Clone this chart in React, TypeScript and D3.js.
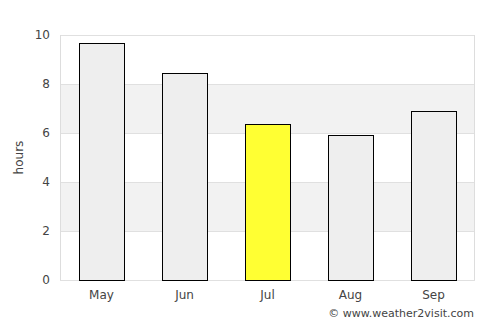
import * as d3 from 'd3';

const months = ['May', 'Jun', 'Jul', 'Aug', 'Sep'];
const hours = [9.67, 8.45, 6.37, 5.92, 6.9];
const highlight = 'Jul';
const yTicks = [0, 2, 4, 6, 8, 10];

const W = 500;
const H = 325;
const margin = { top: 35, right: 25, bottom: 45, left: 60 };

export default function App() {
  const innerW = W - margin.left - margin.right;
  const innerH = H - margin.top - margin.bottom;

  const x = d3.scaleBand<string>().domain(months).range([0, innerW]).paddingInner(0.458).paddingOuter(0.229);
  const y = d3.scaleLinear().domain([0, 10]).range([innerH, 0]);

  const font = '"DejaVu Sans", sans-serif';

  return (
    <svg
      width={W}
      height={H}
      style={{ position: 'absolute', left: 0, top: 0, background: '#fff' }}
      fontFamily={font}
    >
      <g transform={`translate(${margin.left},${margin.top})`}>
        {yTicks.slice(0, -1).map((t, i) =>
          i % 2 === 1 ? (
            <rect key={'band' + t} x={0} y={y(t + 2)} width={innerW} height={y(t) - y(t + 2)} fill="#f2f2f2" />
          ) : null
        )}
        {yTicks.map((t) => (
          <line key={'g' + t} x1={0} x2={innerW} y1={Math.round(y(t)) + 0.5} y2={Math.round(y(t)) + 0.5} stroke="#e0e0e0" />
        ))}
        <line x1={0.5} x2={0.5} y1={0} y2={innerH} stroke="#ddd" />
        <line x1={innerW - 0.5} x2={innerW - 0.5} y1={0} y2={innerH} stroke="#ddd" />
        {months.map((m, i) => {
          const x0 = Math.round(x(m)!) + 0.5;
          const y0 = Math.round(y(hours[i])) + 0.5;
          return (
            <rect
              key={m}
              x={x0}
              y={y0}
              width={Math.round(x.bandwidth())}
              height={Math.round(innerH) - y0 + 0.5}
              fill={m === highlight ? '#ffff33' : '#eeeeee'}
              stroke="#000"
              strokeWidth={1}
            />
          );
        })}
        {yTicks.map((t) => (
          <text key={'yt' + t} x={-10} y={y(t)} dy="0.35em" textAnchor="end" fontSize={12} fill="#444">
            {t}
          </text>
        ))}
        {months.map((m) => (
          <text key={'xt' + m} x={x(m)! + x.bandwidth() / 2} y={innerH + 19} textAnchor="middle" fontSize={12} fill="#444">
            {m}
          </text>
        ))}
        <text
          transform={`translate(${-37},${innerH / 2}) rotate(-90)`}
          textAnchor="middle"
          fontSize={12}
          fill="#444"
        >
          hours
        </text>
      </g>
      <text x={474} y={317} textAnchor="end" fontSize={11} fill="#444">
        © www.weather2visit.com
      </text>
    </svg>
  );
}
